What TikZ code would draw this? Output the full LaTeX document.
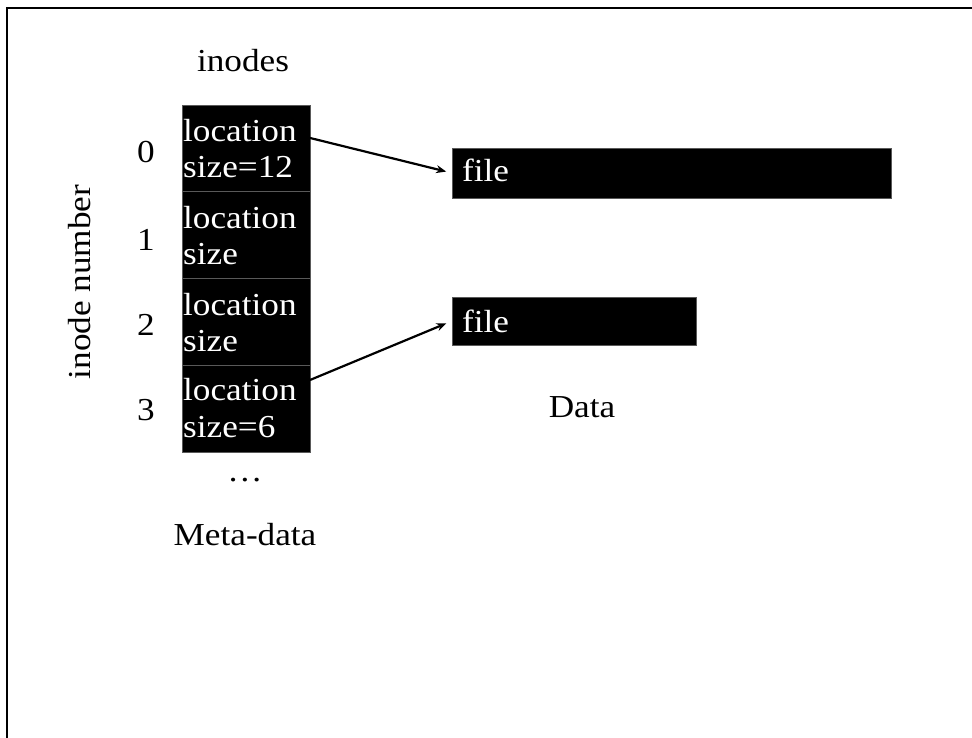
\documentclass[tikz,border=0pt]{standalone}
\usepackage{fontspec}
\setmainfont{Liberation Serif}[FakeStretch=1.1]
\usetikzlibrary{arrows.meta,calc}
\begin{document}
\begin{tikzpicture}[x=1pt,y=-1pt,
  cell/.style={fill=black, draw=black!65, line width=0.6pt, minimum width=128pt,
    minimum height=86.75pt, anchor=north west, inner sep=0pt, outer sep=0pt},
  bar/.style={fill=black, draw=black!65, line width=0.6pt, anchor=north west,
    inner sep=0pt, outer sep=0pt},
  wtxt/.style={text=white, font=\fontsize{32}{36}\selectfont, inner sep=0pt, anchor=base west},
  btxt/.style={text=black, font=\fontsize{32}{36}\selectfont, inner sep=0pt, anchor=base},
  link/.style={line width=2.2pt, -{Stealth[length=10pt,width=8pt]}, shorten >=6pt}]
\useasboundingbox (0,0) rectangle (972,738);

% frame: top and left edges
\draw[line width=2.4pt] (7,738) -- (7,8) -- (972,8);

% inode table
\foreach \i/\y in {0/105,1/191.75,2/278.5,3/365.25}
  \node[cell] (c\i) at (182,\y) {};
\node[wtxt] (l0) at (183,142) {location};
\node[wtxt] (s0) at (183,178) {size=12};
\node[wtxt] (l1) at (183,229) {location};
\node[wtxt] (s1) at (183,265) {size};
\node[wtxt] (l2) at (183,315.5) {location};
\node[wtxt] (s2) at (183,351.5) {size};
\node[wtxt] (l3) at (183,400) {location};
\node[wtxt] (s3) at (183,437) {size=6};

% inode numbers
\node[btxt] (n0) at (146,162.5) {0};
\node[btxt] (n1) at (146,250.5) {1};
\node[btxt] (n2) at (146,335.5) {2};
\node[btxt] (n3) at (146,420.5) {3};
\node[btxt, anchor=center, rotate=90] (axis) at (80,282) {inode number};

\node[btxt] (head) at (243,72) {inodes};
\node[btxt] (more) at (245,481) {\ldots};
\node[btxt] (meta) at (245,545) {Meta-data};

% data blocks
\node[bar, minimum width=439pt, minimum height=50pt] (f0) at (452,148) {};
\node[wtxt] (ft0) at (462,182) {file};
\node[bar, minimum width=244pt, minimum height=48pt] (f1) at (452,297) {};
\node[wtxt] (ft1) at (462,332) {file};
\node[btxt] (data) at (582,417) {Data};

% pointers from inodes to their data
\draw[link] ($(c0.north east)!0.38!(c0.south east)$) -- (f0.west);
\draw[link] ($(c3.north east)!0.17!(c3.south east)$) -- (f1.west);
\end{tikzpicture}
\end{document}
